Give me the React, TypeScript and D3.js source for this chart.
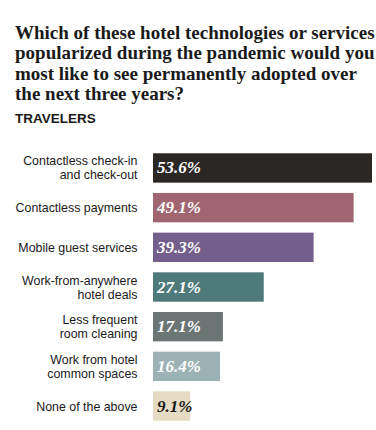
import React from "react";
import * as d3 from "d3";

const titleLines = [
  "Which of these hotel technologies or services",
  "popularized during the pandemic would you",
  "most like to see permanently adopted over",
  "the next three years?",
];
const subtitle = "TRAVELERS";
const categories = [
  ["Contactless check-in", "and check-out"],
  ["Contactless payments"],
  ["Mobile guest services"],
  ["Work-from-anywhere", "hotel deals"],
  ["Less frequent", "room cleaning"],
  ["Work from hotel", "common spaces"],
  ["None of the above"],
];
const values = [53.6, 49.1, 39.3, 27.1, 17.1, 16.4, 9.1];
const colors = ["#2b2725", "#a16571", "#725f8b", "#4e7b7a", "#6b7573", "#9db2b5", "#e5dbc2"];
const labelColors = ["#fff", "#fff", "#fff", "#fff", "#fff", "#fff", "#1a1a1a"];

const W = 376;
const H = 430;

export default function App() {
  const x = d3.scaleLinear().domain([0, 53.6]).range([153, 372]);
  const y = d3
    .scaleBand<number>()
    .domain(d3.range(values.length))
    .range([150.5, 423.5])
    .paddingInner(0.26)
    .paddingOuter(0.07);
  const bw = y.bandwidth();
  return (
    <svg
      width={W}
      height={H}
      style={{ position: "absolute", left: 0, top: 0, background: "#fff" }}
    >
      {titleLines.map((t, i) => (
        <text
          key={i}
          x={15}
          y={38.5 + i * 20.5}
          fontFamily="'Liberation Serif', 'DejaVu Serif', serif"
          fontWeight="bold"
          fontSize={19}
          fill="#1a1a1a"
        >
          {t}
        </text>
      ))}
      <text
        x={15}
        y={123}
        fontFamily="'Liberation Sans', Arial, sans-serif"
        fontWeight="bold"
        fontSize={13.5}
        fill="#1a1a1a"
      >
        {subtitle}
      </text>
      {values.map((v, i) => {
        const yc = (y(i) as number) + bw / 2;
        const lines = categories[i];
        const lh = 14;
        return (
          <g key={i}>
            <rect x={x(0)} y={y(i)} width={x(v) - x(0)} height={bw} fill={colors[i]} />
            {lines.map((l, j) => (
              <text
                key={j}
                x={137.5}
                y={yc + 4.5 + (j - (lines.length - 1) / 2) * lh}
                textAnchor="end"
                fontFamily="'Liberation Sans', Arial, sans-serif"
                fontSize={12.4}
                fill="#1a1a1a"
              >
                {l}
              </text>
            ))}
            <text
              x={157}
              y={yc + 5.5}
              fontFamily="'Liberation Serif', 'DejaVu Serif', serif"
              fontWeight="bold"
              fontStyle="italic"
              fontSize={17}
              fill={labelColors[i]}
            >
              {v.toFixed(1)}%
            </text>
          </g>
        );
      })}
    </svg>
  );
}
